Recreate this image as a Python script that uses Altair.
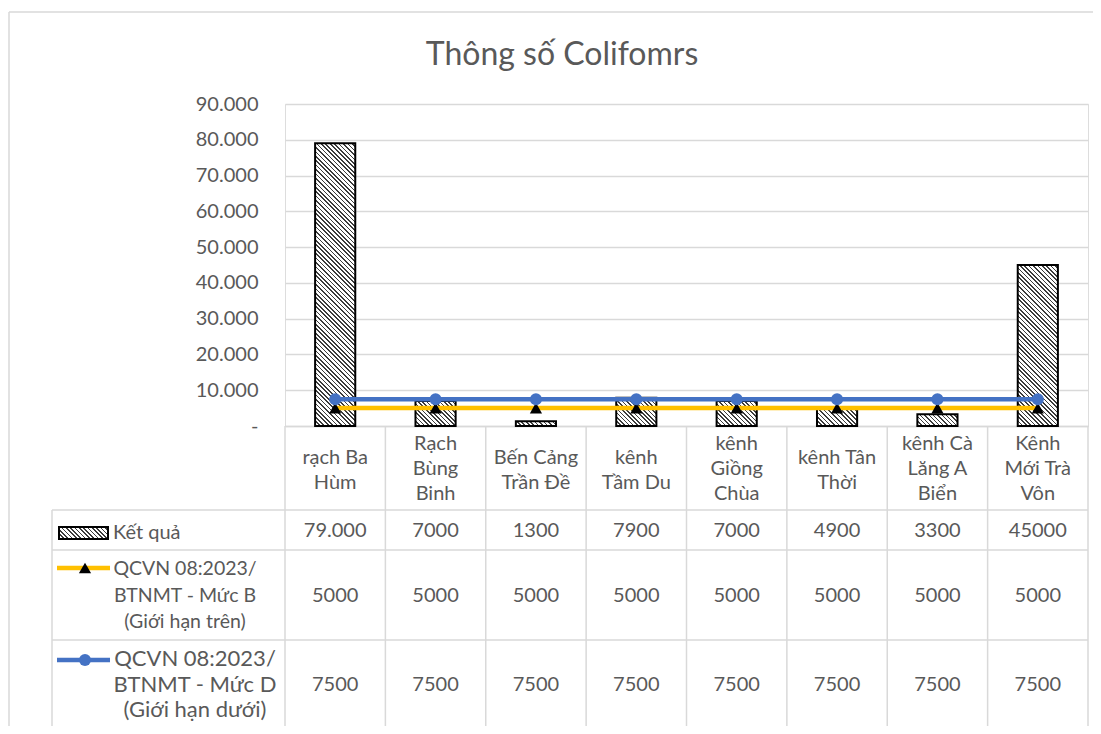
import math
import altair as alt
import pandas as pd

# ---------------- data ----------------
categories = ["rạch Ba\nHùm", "Rạch\nBùng\nBinh", "Bến Cảng\nTrần Đề", "kênh\nTầm Du",
              "kênh\nGiồng\nChùa", "kênh Tân\nThời", "kênh Cà\nLăng A\nBiển", "Kênh\nMới Trà\nVôn"]
ket_qua = [79000, 7000, 1300, 7900, 7000, 4900, 3300, 45000]
ket_qua_text = ["79.000", "7000", "1300", "7900", "7000", "4900", "3300", "45000"]
muc_b = [5000, 5000, 5000, 5000, 5000, 5000, 5000, 5000]
muc_d = [7500, 7500, 7500, 7500, 7500, 7500, 7500, 7500]
series_names = ["Kết quả",
                "QCVN 08:2023/\nBTNMT - Mức B\n(Giới hạn trên)",
                "QCVN 08:2023/\nBTNMT - Mức D\n(Giới hạn dưới)"]
chart_title = "Thông số Colifomrs"
y_ticks = [0, 10000, 20000, 30000, 40000, 50000, 60000, 70000, 80000, 90000]

df = pd.DataFrame({
    "cat": categories,
    "kq": ket_qua,
    "kq_text": ket_qua_text,
    "b": muc_b,
    "d": muc_d,
})

# ---------------- layout ----------------
W, H = 803, 322
YMAX = 90000
PL, PT, PR = 277, 96, 5
PB = 718 - PT - H
FONT = "Lato"
TXT = "#595959"
GRID = "#d9d9d9"
YELLOW = "#FFC000"
BLUE = "#4472C4"
FS = 20


def hatch(w, h, period=4.4, frac=0.38, dark="#3c3c3c", light="#ffffff"):
    t = (w + h) / (w * w + h * h)
    n = max(1, round((w + h) / period))
    stops = []
    for k in range(n):
        a = k / n
        b = (k + frac) / n
        c = (k + 1) / n
        stops += [{"offset": a, "color": dark}, {"offset": b, "color": dark},
                  {"offset": b, "color": light}, {"offset": c, "color": light}]
    return {"gradient": "linear", "x1": 0, "y1": 1, "x2": t * w, "y2": 1 - t * h,
            "stops": stops}


x_axis = alt.Axis(title=None, domain=True, domainColor=GRID, domainWidth=1.5,
                  ticks=False, tickSize=0, grid=False, labels=False)
y_axis = alt.Axis(title=None, values=y_ticks, domain=False, ticks=False, tickSize=0,
                  grid=True, gridColor=GRID, gridWidth=1.5, labelPadding=27,
                  labelExpr="datum.value == 0 ? '-\u2003' : format(datum.value / 1000, 'd') + '.000'",
                  labelFontSize=FS, labelColor=TXT, labelFont=FONT)

x_scale = alt.Scale(domain=categories, paddingInner=0, paddingOuter=0)
y_scale = alt.Scale(domain=[0, YMAX], nice=False)


def X(**kw):
    return alt.X("cat:N", sort=categories, scale=x_scale, axis=x_axis, title=None, **kw)


def Y(field):
    return alt.Y(f"{field}:Q", scale=y_scale, axis=y_axis, title=None)


base = alt.Chart(df)
layers = []

# bars with hatched fill (one layer per bar so each gets its own stripe geometry)
band_w = W / len(categories) * 0.4
for cat, val in zip(categories, ket_qua):
    h = val * H / YMAX
    layers.append(
        base.transform_filter(alt.datum.cat == cat)
        .mark_bar(width={"band": 0.4}, fill=hatch(band_w, h), stroke="black", strokeWidth=2)
        .encode(x=X(), y=Y("kq"))
    )

# limit lines
layers.append(base.mark_line(color=YELLOW, strokeWidth=4.5).encode(x=X(), y=Y("b")))
layers.append(base.mark_point(shape="triangle-up", filled=True, color="black", size=150, opacity=1)
              .encode(x=X(), y=Y("b")))
layers.append(base.mark_line(color=BLUE, strokeWidth=4.5).encode(x=X(), y=Y("d")))
layers.append(base.mark_point(shape="circle", filled=True, color=BLUE, size=145, opacity=1)
              .encode(x=X(), y=Y("d")))

# ---------------- data table ----------------
TABLE_LEFT = -233
ROW_LINES = [406, 446, 536, 626]
# vertical lines at category boundaries
layers.append(base.mark_rule(color=GRID, strokeWidth=1.5)
              .encode(x=X(bandPosition=0), y=alt.value(H), y2=alt.value(ROW_LINES[-1])))
one = alt.Chart(pd.DataFrame({"k": [0]}))
layers.append(one.mark_rule(color=GRID, strokeWidth=1.5)
              .encode(x=alt.value(W), y=alt.value(H), y2=alt.value(ROW_LINES[-1])))
layers.append(one.mark_rule(color=GRID, strokeWidth=1.5)
              .encode(x=alt.value(TABLE_LEFT), y=alt.value(ROW_LINES[0]), y2=alt.value(ROW_LINES[-1])))
for yy in ROW_LINES:
    layers.append(one.mark_rule(color=GRID, strokeWidth=1.5)
                  .encode(x=alt.value(TABLE_LEFT), x2=alt.value(W), y=alt.value(yy)))

# category header (multi-line, first line drawn at the anchor)
hdr = base.transform_calculate(lines="split(datum.cat, '\\n')",
                               nlines="length(split(datum.cat, '\\n'))")
for nl, y0 in ((2, 354), (3, 340)):
    layers.append(hdr.transform_filter(f"datum.nlines == {nl}")
                  .mark_text(font=FONT, fontSize=FS, color=TXT, baseline="middle", align="center",
                             lineHeight=25)
                  .encode(x=X(), y=alt.value(y0), text="lines:N"))

# values
txt = dict(font=FONT, fontSize=FS, color=TXT, baseline="middle", align="center")
layers.append(base.mark_text(**txt).encode(x=X(), y=alt.value(427), text="kq_text:N"))
layers.append(base.mark_text(**txt).encode(x=X(), y=alt.value(492), text="b:N"))
layers.append(base.mark_text(**txt).encode(x=X(), y=alt.value(581), text="d:N"))

# legend keys in the table
layers.append(one.mark_rect(fill=hatch(49, 12), stroke="black", strokeWidth=2)
              .encode(x=alt.value(-226), x2=alt.value(-177), y=alt.value(423), y2=alt.value(435)))
layers.append(one.mark_text(font=FONT, fontSize=FS, color=TXT, baseline="middle", align="left")
              .encode(x=alt.value(-172), y=alt.value(429), text=alt.value(series_names[0])))

layers.append(one.mark_rule(color=YELLOW, strokeWidth=4.5)
              .encode(x=alt.value(-228), x2=alt.value(-175), y=alt.value(464)))
layers.append(one.mark_point(shape="triangle-up", filled=True, color="black", size=150, opacity=1)
              .encode(x=alt.value(-200), y=alt.value(464)))
layers.append(one.mark_text(font=FONT, fontSize=19.5, color=TXT, baseline="middle", align="center",
                            lineHeight=26.5)
              .encode(x=alt.value(-100), y=alt.value(465), text=alt.value(series_names[1].split("\n"))))

layers.append(one.mark_rule(color=BLUE, strokeWidth=4.5)
              .encode(x=alt.value(-228), x2=alt.value(-175), y=alt.value(556)))
layers.append(one.mark_point(shape="circle", filled=True, color=BLUE, size=145, opacity=1)
              .encode(x=alt.value(-200), y=alt.value(556)))
layers.append(one.mark_text(font=FONT, fontSize=22, color=TXT, baseline="middle", align="center",
                            lineHeight=25.5)
              .encode(x=alt.value(-90), y=alt.value(555), text=alt.value(series_names[2].split("\n"))))

# chart frame and title
layers.append(one.mark_rule(color=GRID, strokeWidth=1.5)
              .encode(x=alt.value(-276), x2=alt.value(W + PR + 5), y=alt.value(-92)))
layers.append(one.mark_rule(color=GRID, strokeWidth=1.5)
              .encode(x=alt.value(-276), y=alt.value(-92), y2=alt.value(H + PB)))
layers.append(one.mark_text(font=FONT, fontSize=32, color=TXT, baseline="alphabetic", align="center")
              .encode(x=alt.value(277), y=alt.value(-39), text=alt.value(chart_title)))

chart = alt.layer(*layers).properties(
    width=W, height=H,
    autosize=alt.AutoSizeParams(type="none"),
    padding={"left": PL, "top": PT, "right": PR, "bottom": PB},
).configure_view(stroke=None).configure(background="white")

chart.save("out.html", embed_options={"renderer": "svg", "actions": False})
